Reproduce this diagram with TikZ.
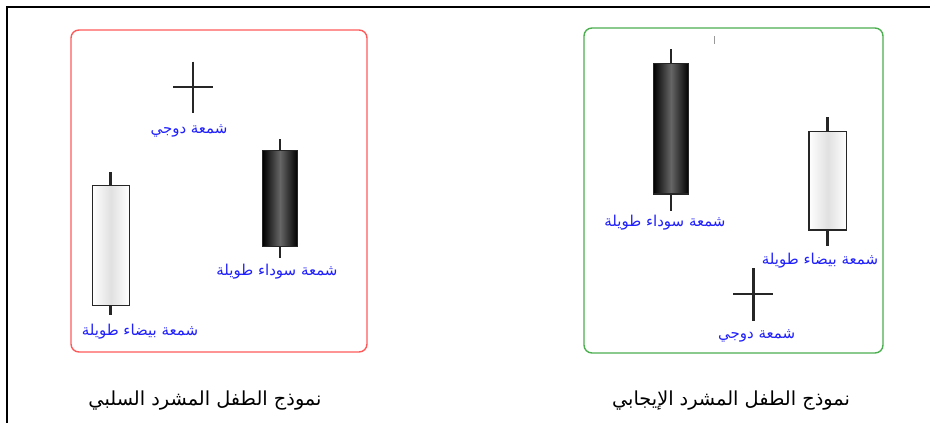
\documentclass[tikz,border=0pt]{standalone}
\usepackage{fontspec}
\usetikzlibrary{positioning}
\TeXXeTstate=1
\newfontfamily\arabicfont[Script=Arabic]{DejaVu Sans}
\definecolor{tagblue}{HTML}{2020FF}
\definecolor{bearred}{HTML}{FF5A5A}
\definecolor{bullgreen}{HTML}{4CAF50}

\begin{document}
\begin{tikzpicture}[x=1pt, y=-1pt]

\tikzset{
panel/.style = {rectangle, rounded corners = 8pt, line width = 1.4pt, 
	inner sep = 0pt},
body/.style = {rectangle, draw = black!85, line width = 1.3pt, inner sep = 0pt},
whitebody/.style = {body, left color = white, right color = white, 
	middle color = black!12},
blackbody/.style = {body, left color = black, right color = black, 
	middle color = black!60},
wick/.style = {draw = black!85, line width = 2.8pt},
tag/.style = {text = tagblue, font = \arabicfont\fontsize{15}{17}\selectfont, 
	inner sep = 1pt},
caption/.style = {text = black, font = \arabicfont\fontsize{19.3}{22}\selectfont},
}

\useasboundingbox (0,0) rectangle (930,423);

%% Frame
\draw [line width = 2.4pt] (930,7) -- (7,7) -- (7,423);

%% Bearish panel
\node at (219,191) [panel, draw = bearred, minimum width = 296pt, 
	minimum height = 322pt] (bearish) {};

% Doji
\coordinate (doji1) at (193,87);
\draw [wick] (doji1) ++(0,-25.5) -- ++(0,51);
\draw [wick] (doji1) ++(-20,0) -- ++(40,0);
\node at (189,131) [tag] (doji1-tag) {\beginR شمعة دوجي\endR};

% Long white
\node at (110.8,245.7) [whitebody, minimum width = 37pt, minimum height = 120pt] (white1) {};
\coordinate (white1-high) at (110.8,171.5);
\coordinate (white1-low) at (110.8,315);
\draw [wick] (white1) -- (white1-high);
\draw [wick] (white1) -- (white1-low);
\node at (140,332) [tag] (white1-tag) {\beginR شمعة بيضاء طويلة\endR};

% Long black
\node at (280,198.7) [blackbody, minimum width = 35pt, minimum height = 96pt] (black1) {};
\coordinate (black1-high) at (280,139);
\coordinate (black1-low) at (280,258);
\draw [wick] (black1) -- (black1-high);
\draw [wick] (black1) -- (black1-low);
\node at (277,272) [tag] (black1-tag) {\beginR شمعة سوداء طويلة\endR};

%% Bullish panel
\node at (733.5,190.5) [panel, draw = bullgreen, minimum width = 299pt, 
	minimum height = 325pt] (bullish) {};
\draw [black!40, line width = 0.6pt] (714,36) -- (714,44);

% Long black
\node at (671,128.7) [blackbody, minimum width = 35.5pt, minimum height = 130.7pt] (black2) {};
\coordinate (black2-high) at (671,49.3);
\coordinate (black2-low) at (671,210.7);
\draw [wick] (black2) -- (black2-high);
\draw [wick] (black2) -- (black2-low);
\node at (665,223) [tag] (black2-tag) {\beginR شمعة سوداء طويلة\endR};

% Long white
\node at (827.8,180.9) [whitebody, minimum width = 37.7pt, minimum height = 98.3pt] (white2) {};
\coordinate (white2-high) at (827.8,117.3);
\coordinate (white2-low) at (827.8,246);
\draw [wick] (white2) -- (white2-high);
\draw [wick] (white2) -- (white2-low);
\node at (820,260.5) [tag] (white2-tag) {\beginR شمعة بيضاء طويلة\endR};

% Doji
\coordinate (doji2) at (753.3,294);
\draw [wick] (doji2) ++(0,-26) -- ++(0,52.7);
\draw [wick] (doji2) ++(-20,0) -- ++(39.4,0);
\node at (756.7,335.5) [tag] (doji2-tag) {\beginR شمعة دوجي\endR};

%% Captions
\node at (205,401) [caption] (bearish-caption) {\beginR نموذج الطفل المشرد السلبي\endR};
\node at (731,401) [caption] (bullish-caption) {\beginR نموذج الطفل المشرد الإيجابي\endR};

\end{tikzpicture}
\end{document}
